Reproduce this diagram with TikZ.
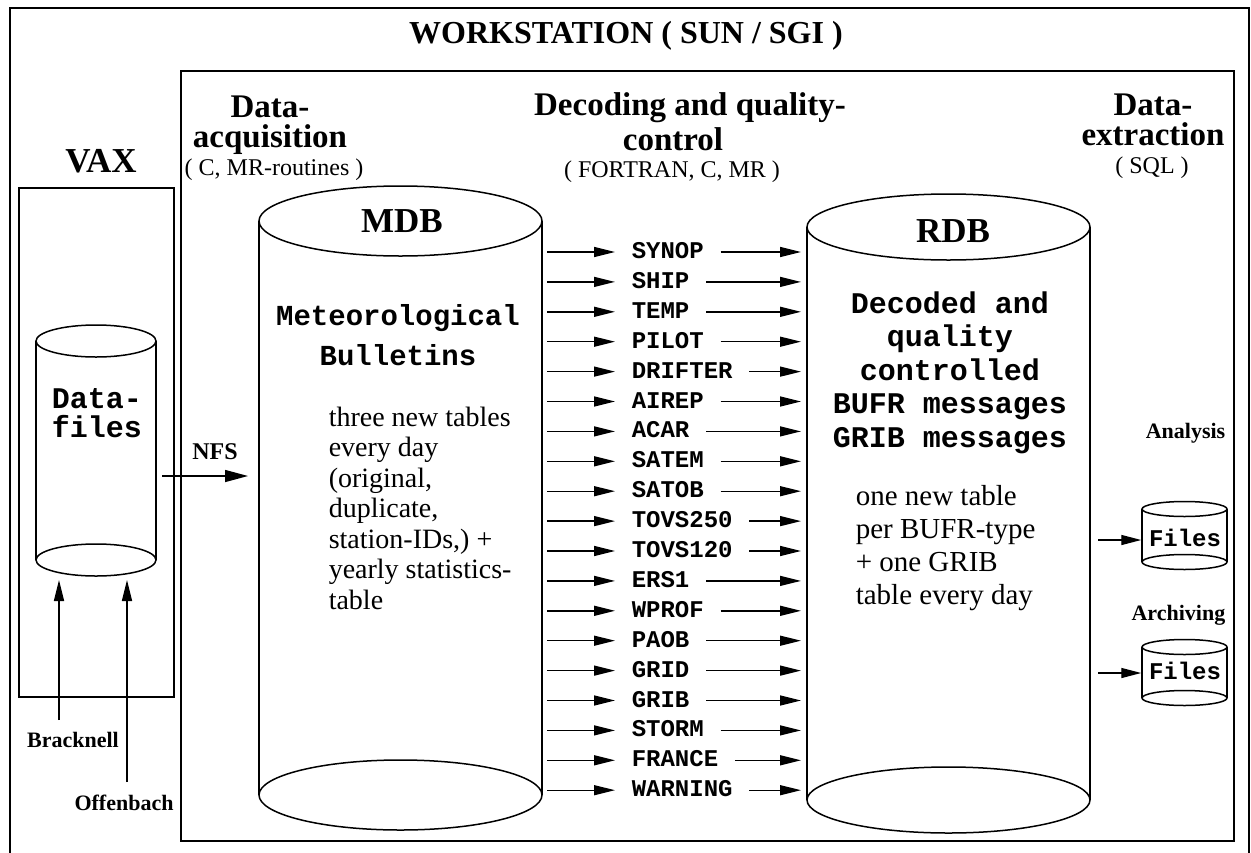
\documentclass[tikz,border=0pt]{standalone}
\usepackage{fontspec}
\setmainfont{Liberation Serif}
\setmonofont{Liberation Mono}
\usetikzlibrary{arrows.meta}
\newcommand\drawcyl[5]{%
  \draw (#1-#2,#3) -- (#1-#2,#4) (#1+#2,#3) -- (#1+#2,#4);
  \draw (#1,#3) ellipse [x radius=#2, y radius=#5];
  \draw (#1,#4) ellipse [x radius=#2, y radius=#5];}
\begin{document}
\begin{tikzpicture}[x=1pt,y=-1pt,line width=1.5pt,
  arr/.style={-{Triangle[length=21pt,width=10pt]},line width=1.4pt},
  hdr/.style={font=\fontsize{33}{30}\selectfont\bfseries,inner sep=0pt,anchor=base},
  sub/.style={font=\fontsize{24}{28}\selectfont,inner sep=0pt,anchor=base},
  big/.style={font=\fontsize{35}{40}\selectfont\bfseries,inner sep=0pt,anchor=base},
  lbl/.style={font=\fontsize{22}{26}\selectfont\bfseries,inner sep=0pt,anchor=base},
  code/.style={font=\fontsize{24}{28}\selectfont\ttfamily\bfseries,inner ysep=0pt,inner xsep=16pt,text height=13pt,text depth=0pt,anchor=west},
  files/.style={font=\fontsize{24}{28}\selectfont\ttfamily\bfseries,inner ysep=0pt,inner xsep=7pt,text height=13pt,text depth=0pt}]
\useasboundingbox (0,0) rectangle (1251,852);
% frames
\draw (10,8) rectangle (1249,860);
\draw (181,71) rectangle (1234,841);
\draw (19,188) rectangle (174,697);
% titles
\node[font=\fontsize{32}{36}\selectfont\bfseries,anchor=base,inner sep=0pt] (title) at (626,43) {WORKSTATION ( SUN / SGI )};
\node[big] (vax) at (101,172) {VAX};
\node[hdr,align=center] (h1) at (270,147) {Data-\\acquisition};
\node[sub] (h1s) at (274,175) {( C, MR-routines )};
\node[hdr] (h2a) at (690,115) {Decoding and quality-};
\node[hdr] (h2b) at (673,150) {control};
\node[sub] (h2s) at (672,177) {( FORTRAN, C, MR )};
\node[hdr,align=center] (h3) at (1153,145) {Data-\\extraction};
\node[sub] (h3s) at (1152,173) {( SQL )};
% cylinders
\drawcyl{96}{60}{341}{560}{16}
\drawcyl{400.5}{141.5}{221}{795}{35}
\drawcyl{948.5}{141.5}{227}{800}{33}
\drawcyl{1184.5}{42.5}{509}{562}{7.5}
\drawcyl{1184.5}{42.5}{647}{698}{7.5}
% VAX content
\node[font=\fontsize{30}{29}\selectfont\ttfamily\bfseries,align=center,inner sep=0pt,anchor=base] (df) at (97,437) {Data-\\files};
\node[lbl] (brk) at (73,747) {Bracknell};
\node[lbl] (off) at (124,810) {Offenbach};
\coordinate (brkS) at (59,720);
\coordinate (brkE) at (59,580);
\coordinate (offS) at (127,782);
\coordinate (offE) at (127,580);
\draw[arr] (brkS) -- (brkE);
\draw[arr] (offS) -- (offE);
\node[font=\fontsize{24}{28}\selectfont\bfseries,inner sep=0pt,anchor=base] (nfs) at (215,459) {NFS};
\coordinate (nfsA) at (162,476);
\coordinate (nfsB) at (248,476);
\draw[-{Triangle[length=23pt,width=12pt]},line width=1.4pt] (nfsA) -- (nfsB);
% MDB
\node[big] (mdb) at (402,232) {MDB};
\node[font=\fontsize{29}{40}\selectfont\ttfamily\bfseries,align=center,inner sep=0pt,anchor=base] (met) at (398,365) {Meteorological\\Bulletins};
\node[font=\fontsize{28}{30.5}\selectfont,align=left,inner sep=0pt,anchor=base west] (mdbt) at (328,609) {three new tables\\every day\\(original,\\duplicate,\\station-IDs,) +\\yearly statistics-\\table};
% RDB
\node[big] (rdb) at (953,242) {RDB};
\node[font=\fontsize{30}{33.5}\selectfont\ttfamily\bfseries,align=center,inner sep=0pt,anchor=base] (dec) at (950,447) {Decoded and\\quality\\controlled\\BUFR messages\\GRIB messages};
\node[font=\fontsize{29}{33}\selectfont,align=left,inner sep=0pt,anchor=base west] (rdbt) at (855,604) {one new table\\per BUFR-type\\+ one GRIB\\table every day};
% rows
\foreach \lab [count=\i from 0] in {SYNOP,SHIP,TEMP,PILOT,DRIFTER,AIREP,ACAR,SATEM,SATOB,TOVS250,TOVS120,ERS1,WPROF,PAOB,GRID,GRIB,STORM,FRANCE,WARNING} {
  \pgfmathsetmacro\yy{252+29.9*\i}
  \coordinate (m\i) at (547,\yy);
  \node[code] (l\i) at (615,\yy) {\lab};
  \coordinate (r\i) at (801,\yy);
  \draw[arr] (m\i) -- (l\i.west);
  \draw[arr] (l\i.east) -- (r\i);
}
% extraction
\node[lbl,anchor=base east] (ana) at (1226,438) {Analysis};
\node[files] (f1) at (1185,540) {Files};
\coordinate (f1s) at (1098,540);
\draw[-{Triangle[length=20pt,width=10pt]},line width=1.4pt] (f1s) -- (f1.west);
\node[lbl,anchor=base east] (arc) at (1226,620) {Archiving};
\node[files] (f2) at (1185,673) {Files};
\coordinate (f2s) at (1098,673);
\draw[-{Triangle[length=20pt,width=10pt]},line width=1.4pt] (f2s) -- (f2.west);
\end{tikzpicture}
\end{document}
